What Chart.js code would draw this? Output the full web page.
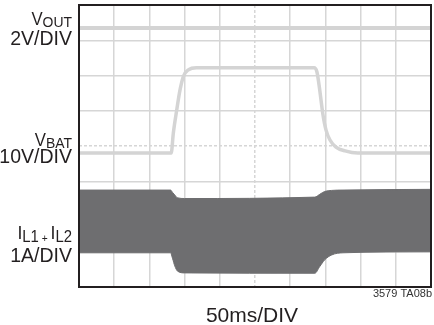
<!DOCTYPE html>
<html lang="en">
<head>
  <meta charset="UTF-8">
  <title>VOUT / VBAT / IL1+IL2 scope capture</title>
  <script src="https://cdn.jsdelivr.net/npm/chart.js"></script>
  <style>
    html, body { margin: 0; padding: 0; background: #fff; }
  </style>
</head>
<body>
  <canvas id="scope" width="434" height="325"></canvas>

  <script>
    // time axis in ms (50ms/DIV, 10 divisions), vertical axis in divisions (8 total)
    const xTicks = [0, 50, 100, 150, 200, 250, 300, 350, 400, 450, 500];
    const yTicks = [0, 1, 2, 3, 4, 5, 6, 7, 8];

    // VOUT trace (flat)
    const voutTime = [0, 500];
    const voutDiv = [7.35, 7.35];

    // VBAT trace: step up then decay back
    const vbatTime = [0, 131, 134, 138.8, 143.5, 148.2, 155.3, 167, 334, 338, 341, 343.8, 346.6, 350.9, 356.5, 365, 378, 396, 500];
    const vbatDiv  = [3.80, 3.80, 4.37, 5.02, 5.59, 5.97, 6.16, 6.22, 6.22, 6.10, 5.73, 5.30, 4.88, 4.45, 4.17, 3.97, 3.86, 3.80, 3.80];

    // inductor current envelope (switching band), top and bottom edges
    const bandTime   = [0, 130, 133, 136, 140, 150, 335, 342, 349, 359, 375, 500];
    const bandTop    = [2.75, 2.75, 2.68, 2.61, 2.53, 2.51, 2.55, 2.63, 2.71, 2.74, 2.75, 2.77];
    const bandBottom = [0.97, 0.97, 0.80, 0.60, 0.45, 0.40, 0.39, 0.58, 0.77, 0.91, 0.97, 1.00];

    const pts = (xs, ys) => xs.map((x, i) => ({ x: x, y: ys[i] }));

    const FONT = '"Liberation Sans Narrow", "Liberation Sans", Arial, sans-serif';
    const INK = "#231f20";

    // pieces: [text, fontSize, baselineShift]; sx squeezes the glyphs sideways
    function drawParts(ctx, parts, right, baseline, sx) {
      sx = sx || 1;
      let total = 0;
      parts.forEach(p => {
        ctx.font = p[1] + "px " + FONT;
        total += ctx.measureText(p[0]).width * sx;
      });
      let x = right - total;
      parts.forEach(p => {
        ctx.font = p[1] + "px " + FONT;
        ctx.save();
        ctx.translate(x, baseline + p[2]);
        ctx.scale(sx, 1);
        ctx.fillText(p[0], 0, 0);
        ctx.restore();
        x += ctx.measureText(p[0]).width * sx;
      });
    }

    const labelsPlugin = {
      id: "scopeLabels",
      afterDraw(chart) {
        const ctx = chart.ctx;
        const a = chart.chartArea;
        ctx.save();
        // frame
        ctx.strokeStyle = INK;
        ctx.lineWidth = 2;
        ctx.strokeRect(a.left, a.top, a.right - a.left, a.bottom - a.top);

        ctx.fillStyle = INK;
        ctx.textAlign = "left";
        ctx.textBaseline = "alphabetic";
        const r = 72;
        drawParts(ctx, [["V", 18, 0], ["OUT", 15, 2]], r, 25, 0.93);
        drawParts(ctx, [["2V/DIV", 21, 0]], r, 45, 0.93);
        drawParts(ctx, [["V", 18, 0], ["BAT", 15, 2]], r, 146, 0.93);
        drawParts(ctx, [["10V/DIV", 21, 0]], r, 163, 0.93);
        drawParts(ctx, [["I", 19, 0], ["L1", 16, 3], [" + ", 11, 3], ["I", 19, 0], ["L2", 16, 3]], r, 239, 0.93);
        drawParts(ctx, [["1A/DIV", 21, 0]], r, 262, 0.93);

        ctx.textAlign = "center";
        ctx.font = "21px " + FONT;
        ctx.fillText("50ms/DIV", 252, 322);

        ctx.textAlign = "right";
        ctx.font = "11px " + FONT;
        ctx.fillStyle = "#333";
        ctx.fillText("3579 TA08b", 432, 297);
        ctx.restore();
      }
    };

    function renderChart() {
      const ctx = document.getElementById("scope").getContext("2d");
      new Chart(ctx, {
        type: "line",
        data: {
          datasets: [
            {
              label: "VOUT",
              data: pts(voutTime, voutDiv),
              borderColor: "#d4d4d4",
              borderWidth: 4,
              pointRadius: 0,
              fill: false
            },
            {
              label: "VBAT",
              data: pts(vbatTime, vbatDiv),
              borderColor: "#d4d4d4",
              borderWidth: 3.5,
              pointRadius: 0,
              cubicInterpolationMode: "monotone",
              fill: false
            },
            {
              label: "IL top",
              data: pts(bandTime, bandTop),
              borderColor: "#6e6e70",
              borderWidth: 1,
              pointRadius: 0,
              cubicInterpolationMode: "monotone",
              fill: false
            },
            {
              label: "IL bottom",
              data: pts(bandTime, bandBottom),
              borderColor: "#6e6e70",
              backgroundColor: "#6e6e70",
              borderWidth: 1,
              pointRadius: 0,
              cubicInterpolationMode: "monotone",
              fill: "-1"
            }
          ]
        },
        options: {
          responsive: false,
          animation: false,
          devicePixelRatio: 1,
          layout: { padding: { left: 79, right: 3, top: 5, bottom: 38 } },
          plugins: {
            legend: { display: false },
            tooltip: { enabled: false }
          },
          scales: {
            x: {
              type: "linear",
              min: 0,
              max: 500,
              afterBuildTicks: s => { s.ticks = xTicks.map(v => ({ value: v })); },
              ticks: { display: false },
              grid: { color: "#d6d6d6", lineWidth: 1.5, drawTicks: false },
              border: {
                display: false,
                dash: c => (c.tick && c.tick.value === 250 ? [3, 2] : [])
              }
            },
            y: {
              min: 0,
              max: 8,
              afterBuildTicks: s => { s.ticks = yTicks.map(v => ({ value: v })); },
              ticks: { display: false },
              grid: { color: "#d6d6d6", lineWidth: 1.5, drawTicks: false },
              border: {
                display: false,
                dash: c => (c.tick && c.tick.value === 4 ? [3, 2] : [])
              }
            }
          }
        },
        plugins: [labelsPlugin]
      });
    }

    renderChart();
  </script>
</body>
</html>
